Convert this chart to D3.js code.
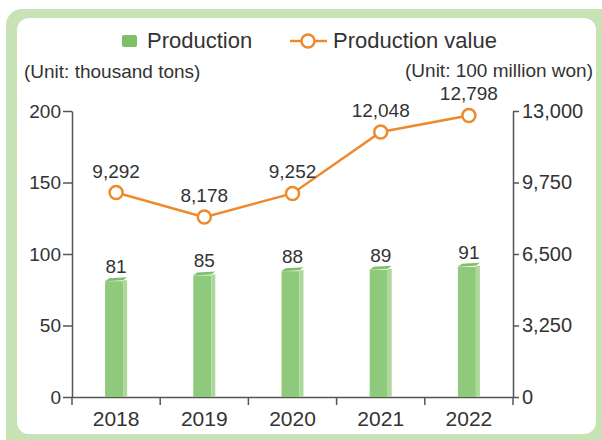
<!DOCTYPE html>
<html>
<head>
<meta charset="utf-8">
<script src="https://cdn.jsdelivr.net/npm/d3@7"></script>
<style>
  body { margin: 0; background: #fff; }
  svg { display: block; font-family: "Liberation Sans", Arial, sans-serif; }
</style>
</head>
<body>
<script>
// data
var years = ["2018", "2019", "2020", "2021", "2022"];
var production = [81, 85, 88, 89, 91];             // thousand tons
var productionValue = [9292, 8178, 9252, 12048, 12798]; // 100 million won
var leftTicks = [0, 50, 100, 150, 200];
var rightTicks = [0, 3250, 6500, 9750, 13000];

var width = 602, height = 440;
var svg = d3.select("body").append("svg")
    .attr("width", width)
    .attr("height", height);

// frame
svg.append("rect")
    .attr("x", 6).attr("y", 9)
    .attr("width", 610).attr("height", 450)
    .attr("rx", 16)
    .attr("fill", "#c7e3b5");
svg.append("rect")
    .attr("x", 17).attr("y", 18)
    .attr("width", 579).attr("height", 416)
    .attr("rx", 12)
    .attr("fill", "#fff");

var x = d3.scaleBand().domain(years).range([72, 513]);
var y = d3.scaleLinear().domain([0, 200]).range([397, 111]);
var y2 = d3.scaleLinear().domain([0, 13000]).range([397, 111]);

var axisColor = "#555";
var textColor = "#333";

// left axis
var gl = svg.append("g")
    .attr("transform", "translate(72,0)")
    .call(d3.axisLeft(y).tickValues(leftTicks).tickSize(9).tickSizeOuter(0).tickPadding(2));
// right axis
var gr = svg.append("g")
    .attr("transform", "translate(513,0)")
    .call(d3.axisRight(y2).tickValues(rightTicks).tickFormat(d3.format(","))
        .tickSize(6).tickSizeOuter(0).tickPadding(3));
// bottom axis (labels only)
var gb = svg.append("g")
    .attr("transform", "translate(0,397)")
    .call(d3.axisBottom(x).tickSize(0).tickPadding(14));

[gl, gr, gb].forEach(function (g) {
    g.selectAll("path, line").attr("stroke", axisColor).attr("stroke-width", 1.5);
    g.selectAll("text").attr("fill", textColor).style("font-size", "19px");
});
gb.selectAll("text").style("font-size", "21px");
gr.selectAll("text").style("font-size", "20px");

// band boundary ticks going down (incl. axis ends)
var bounds = years.map(function (d) { return x(d); }).concat([x.range()[1]]);
svg.append("g").selectAll("line")
    .data(bounds)
    .enter().append("line")
    .attr("x1", function (d) { return d; })
    .attr("x2", function (d) { return d; })
    .attr("y1", 397)
    .attr("y2", 405)
    .attr("stroke", axisColor)
    .attr("stroke-width", 1.5);

// bars (3D-ish)
var bars = svg.append("g").selectAll("g")
    .data(production)
    .enter().append("g")
    .attr("transform", function (d, i) { return "translate(" + (x(years[i]) + x.bandwidth() / 2) + ",0)"; });

bars.append("rect")
    .attr("x", -11)
    .attr("y", function (d) { return y(d); })
    .attr("width", 18)
    .attr("height", function (d) { return y(0) - y(d); })
    .attr("fill", "#8fca7c");
bars.append("rect")
    .attr("x", 7)
    .attr("y", function (d) { return y(d) - 1; })
    .attr("width", 4)
    .attr("height", function (d) { return y(0) - y(d) + 1; })
    .attr("fill", "#acd99b");
bars.append("path")
    .attr("d", function (d) {
        var t = y(d);
        return "M-11," + t + " L-7," + (t - 3) + " L11," + (t - 4) + " L7," + (t - 1) + " Z";
    })
    .attr("fill", "#7fc06b");
bars.append("text")
    .attr("x", 0)
    .attr("y", function (d) { return y(d) - 8; })
    .attr("text-anchor", "middle")
    .attr("fill", textColor)
    .style("font-size", "19px")
    .text(function (d) { return d; });

// line
var orange = "#ee8a2b";
var line = d3.line()
    .x(function (d, i) { return x(years[i]) + x.bandwidth() / 2; })
    .y(function (d) { return y2(d); });

svg.append("path")
    .datum(productionValue)
    .attr("d", line)
    .attr("fill", "none")
    .attr("stroke", orange)
    .attr("stroke-width", 2.5);

svg.append("g").selectAll("circle")
    .data(productionValue)
    .enter().append("circle")
    .attr("cx", function (d, i) { return x(years[i]) + x.bandwidth() / 2; })
    .attr("cy", function (d) { return y2(d); })
    .attr("r", 6.5)
    .attr("fill", "#fff")
    .attr("stroke", orange)
    .attr("stroke-width", 2.5);

svg.append("g").selectAll("text")
    .data(productionValue)
    .enter().append("text")
    .attr("x", function (d, i) { return x(years[i]) + x.bandwidth() / 2; })
    .attr("y", function (d) { return y2(d) - 15; })
    .attr("text-anchor", "middle")
    .attr("fill", textColor)
    .style("font-size", "19px")
    .text(function (d) { return d3.format(",")(d); });

// legend
svg.append("rect")
    .attr("x", 122).attr("y", 35)
    .attr("width", 15).attr("height", 12)
    .attr("rx", 2)
    .attr("fill", "#7cc168");
svg.append("text")
    .attr("x", 147).attr("y", 48)
    .attr("fill", textColor)
    .style("font-size", "22px")
    .text("Production");
svg.append("line")
    .attr("x1", 290).attr("x2", 327)
    .attr("y1", 41).attr("y2", 41)
    .attr("stroke", orange)
    .attr("stroke-width", 2.5);
svg.append("circle")
    .attr("cx", 308).attr("cy", 41)
    .attr("r", 6.5)
    .attr("fill", "#fff")
    .attr("stroke", orange)
    .attr("stroke-width", 2.5);
svg.append("text")
    .attr("x", 333).attr("y", 48)
    .attr("fill", textColor)
    .style("font-size", "22px")
    .text("Production value");

// units
svg.append("text")
    .attr("x", 24).attr("y", 78)
    .attr("fill", textColor)
    .style("font-size", "19px")
    .text("(Unit: thousand tons)");
svg.append("text")
    .attr("x", 593).attr("y", 77)
    .attr("text-anchor", "end")
    .attr("fill", textColor)
    .style("font-size", "19px")
    .text("(Unit: 100 million won)");
</script>
</body>
</html>
